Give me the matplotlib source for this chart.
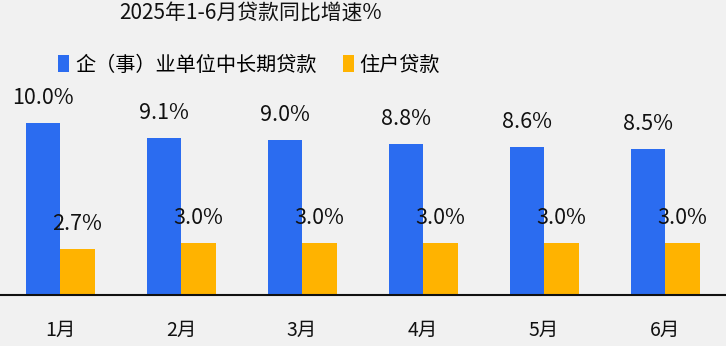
import matplotlib
matplotlib.use('Agg')
import matplotlib.pyplot as plt
import numpy as np

plt.rcParams['font.family'] = ['Noto Sans CJK SC', 'DejaVu Sans']

# data
months = ['1月', '2月', '3月', '4月', '5月', '6月']
corp_long = [10.0, 9.1, 9.0, 8.8, 8.6, 8.5]
household = [2.7, 3.0, 3.0, 3.0, 3.0, 3.0]
series_names = ['企（事）业单位中长期贷款', '住户贷款']
title = '2025年1-6月贷款同比增速%'

W, H = 726, 346
fig = plt.figure(figsize=(W / 100, H / 100), dpi=100)
fig.patch.set_facecolor('#f1f1f1')

# axes: baseline at y=295px, 17.2 px per percent
base_px = 295
ax = fig.add_axes([0, (H - base_px) / H, 1, base_px / H])
ax.set_facecolor('#f1f1f1')

x = np.arange(len(months))
width = 0.285
blue = '#2b6cf0'
orange = '#ffb300'

b1 = ax.bar(x - width / 2, corp_long, width, color=blue, label=series_names[0])
b2 = ax.bar(x + width / 2, household, width, color=orange, label=series_names[1])

ax.set_xlim(-0.496, 5.504)
ax.set_ylim(0, base_px / 17.2)

for bars, vals in ((b1, corp_long), (b2, household)):
    for bar, v in zip(bars, vals):
        ax.annotate(f'{v:.1f}%', (bar.get_x() + bar.get_width() / 2, v),
                    xytext=(0, 14), textcoords='offset pixels',
                    ha='center', va='bottom', fontsize=15.5, color='#111111')

ax.set_xticks(x)
ax.set_xticklabels(months, fontsize=14, color='#111111')
ax.tick_params(axis='x', length=0, pad=18)
ax.set_yticks([])
for side in ('top', 'left', 'right'):
    ax.spines[side].set_visible(False)
ax.spines['bottom'].set_color('#111111')
ax.spines['bottom'].set_linewidth(1.5)

fig.text(251 / W, 1 - 13 / H, title, ha='center', va='center',
         fontsize=15, color='#111111')

fig.legend(handles=[b1, b2], labels=series_names, ncol=2, loc='center',
           bbox_to_anchor=(249 / W, 1 - 65 / H), frameon=False,
           fontsize=14.5, handlelength=0.55, handleheight=0.9,
           handletextpad=0.3, columnspacing=1.3)

fig.savefig('out.png', dpi=100, facecolor=fig.get_facecolor())
